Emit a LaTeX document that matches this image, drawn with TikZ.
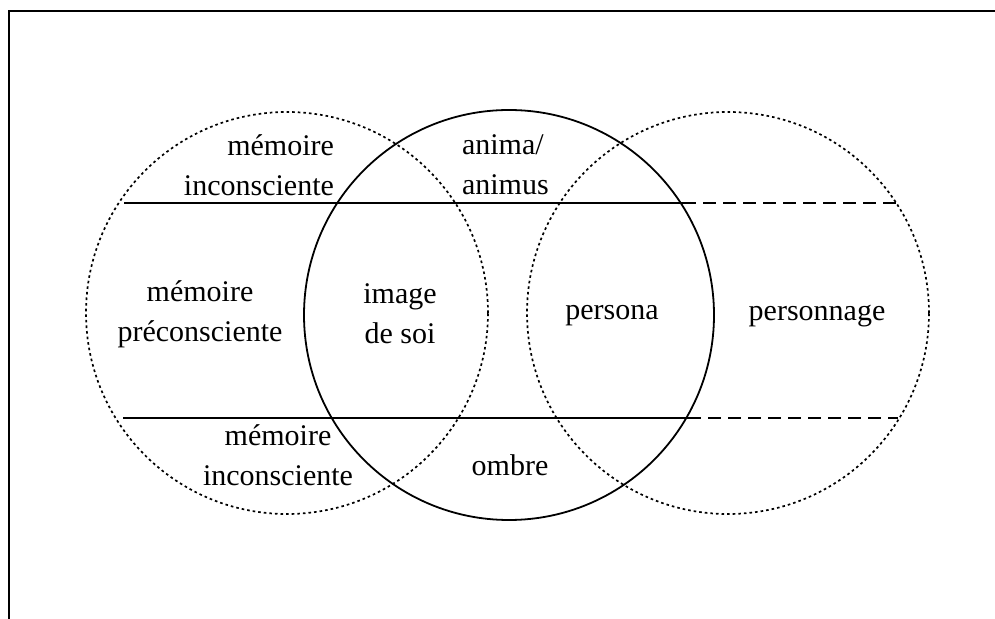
\documentclass[tikz,border=0pt]{standalone}
\usepackage{fontspec}
\setmainfont{Liberation Serif}
\begin{document}
\begin{tikzpicture}[x=0.5pt, y=-0.5pt, font=\fontsize{15}{20}\selectfont,
  cercle/.style={circle, inner sep=0pt, outer sep=0pt},
  pointille/.style={draw, line width=0.85pt, dash pattern=on 1.3pt off 1.5pt},
  trait/.style={line width=0.9pt},
  tirets/.style={line width=0.9pt, dash pattern=on 6.5pt off 3.5pt}]
\useasboundingbox (0,0) rectangle (995,619);
\draw[line width=1pt] (9,619) -- (9,11) -- (995,11);
% les trois cercles
\node[cercle, pointille, minimum size=201pt] (gauche) at (287,313) {};
\node[cercle, draw, trait, minimum size=205pt] (moi) at (509,315) {};
\node[cercle, pointille, minimum size=201pt] (droite) at (728,313) {};
% les deux limites
\coordinate (hg) at (124,203);
\coordinate (hm) at (683,203);
\coordinate (hd) at (897,203);
\coordinate (bg) at (123,418);
\coordinate (bm) at (688,418);
\coordinate (bd) at (898,418);
\draw[trait] (hg) -- (hm);
\draw[tirets] (hm) -- (hd);
\draw[trait] (bg) -- (bm);
\draw[tirets] (bm) -- (bd);
% textes
\node[align=right, anchor=east] (memsup) at (341,165) {mémoire\\inconsciente};
\node[align=left, anchor=west] (anima) at (455,165) {anima/\\animus};
\node[align=center] (precons) at (200,314) {mémoire\\préconsciente};
\node[align=center] (image) at (400,314) {image\\de soi};
\node (persona) at (612,316) {persona};
\node (personnage) at (817,316) {personnage};
\node[align=center] (meminf) at (278,455) {mémoire\\inconsciente};
\node (ombre) at (510,465) {ombre};
\end{tikzpicture}
\end{document}
